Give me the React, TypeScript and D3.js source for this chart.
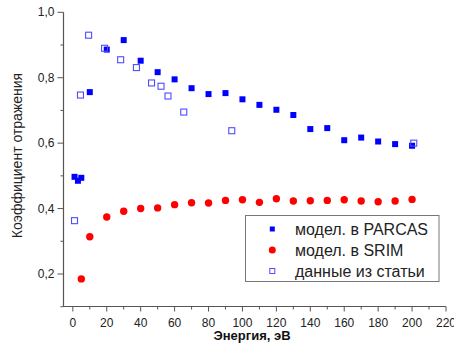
import React, { useRef, useEffect } from "react";
import * as d3 from "d3";

// energies (eV) and reflection coefficients
const parcasE = [1, 3, 5, 10, 20, 30, 40, 50, 60, 70, 80, 90, 100, 110, 120, 130, 140, 150, 160, 170, 180, 190, 200];
const parcasR = [0.497, 0.485, 0.494, 0.756, 0.886, 0.915, 0.852, 0.817, 0.795, 0.768, 0.75, 0.753, 0.734, 0.717, 0.702, 0.686, 0.643, 0.646, 0.609, 0.617, 0.605, 0.597, 0.592];

const srimE = [5, 10, 20, 30, 40, 50, 60, 70, 80, 90, 100, 110, 120, 130, 140, 150, 160, 170, 180, 190, 200];
const srimR = [0.185, 0.314, 0.374, 0.392, 0.4, 0.402, 0.412, 0.418, 0.417, 0.425, 0.427, 0.419, 0.43, 0.423, 0.424, 0.425, 0.427, 0.423, 0.421, 0.423, 0.428];

const paperE = [1, 4.5, 9.3, 18.7, 28.2, 37.5, 46.4, 52, 56.1, 65.4, 93.7, 201];
const paperR = [0.363, 0.747, 0.93, 0.89, 0.855, 0.831, 0.784, 0.774, 0.744, 0.695, 0.638, 0.6];

const xMajor = [0, 20, 40, 60, 80, 100, 120, 140, 160, 180, 200, 220];
const xMinor = [10, 30, 50, 70, 90, 110, 130, 150, 170, 190, 210];
const yMajor = [0.2, 0.4, 0.6, 0.8, 1.0];
const yMinor = [0.1, 0.3, 0.5, 0.7, 0.9];

const legendLabels = ["модел. в PARCAS", "модел. в SRIM", "данные из статьи"];

const FONT = "'Liberation Sans', Arial, sans-serif";
const AXIS = "#555";

export default function App() {
  const svgRef = useRef(null);

  useEffect(() => {
    const svg = d3.select(svgRef.current);
    svg.selectAll("*").remove();

    const x = d3.scaleLinear().domain([-5.5, 220]).range([63.5, 446]);
    const y = d3.scaleLinear().domain([0.1, 1.0]).range([306.7, 12.3]);
    const fmt = (v) => d3.format(".1f")(v).replace(".", ",");

    // x axis
    const gx = svg.append("g").attr("transform", "translate(0,306.5)");
    gx.append("line").attr("x1", 63.5).attr("x2", 446).attr("stroke", AXIS).attr("stroke-width", 1.2);
    gx.selectAll(".maj").data(xMajor).join("line")
      .attr("x1", (d) => x(d)).attr("x2", (d) => x(d)).attr("y1", 0).attr("y2", 5)
      .attr("stroke", AXIS);
    gx.selectAll(".min").data(xMinor).join("line")
      .attr("class", "min")
      .attr("x1", (d) => x(d)).attr("x2", (d) => x(d)).attr("y1", 0).attr("y2", 3)
      .attr("stroke", AXIS);
    gx.selectAll("text").data(xMajor).join("text")
      .attr("x", (d) => x(d)).attr("y", 20.5)
      .attr("text-anchor", "middle")
      .attr("font-size", 12).attr("font-family", FONT).attr("fill", "#222")
      .text((d) => d);

    // y axis
    const gy = svg.append("g").attr("transform", "translate(63.5,0)");
    gy.append("line").attr("y1", 12.3).attr("y2", 306.7).attr("stroke", AXIS).attr("stroke-width", 1.2);
    gy.selectAll(".maj").data(yMajor).join("line")
      .attr("y1", (d) => y(d)).attr("y2", (d) => y(d)).attr("x1", 0).attr("x2", -6)
      .attr("stroke", AXIS);
    gy.selectAll(".min").data(yMinor).join("line")
      .attr("class", "min")
      .attr("y1", (d) => y(d)).attr("y2", (d) => y(d)).attr("x1", 0).attr("x2", -3)
      .attr("stroke", AXIS);
    gy.selectAll("text").data(yMajor).join("text")
      .attr("x", -9).attr("y", (d) => y(d) + 4)
      .attr("text-anchor", "end")
      .attr("font-size", 12).attr("font-family", FONT).attr("fill", "#222")
      .text(fmt);

    // axis titles
    svg.append("text")
      .attr("x", 252).attr("y", 339.5)
      .attr("text-anchor", "middle")
      .attr("font-size", 13).attr("font-weight", "bold").attr("font-family", FONT).attr("fill", "#111")
      .text("Энергия, эВ");
    svg.append("text")
      .attr("transform", "translate(22,155.5) rotate(-90)")
      .attr("text-anchor", "middle")
      .attr("font-size", 14).attr("font-family", FONT).attr("fill", "#222")
      .text("Коэффициент отражения");

    // data
    const parcas = parcasE.map((e, i) => ({ e, r: parcasR[i] }));
    const srim = srimE.map((e, i) => ({ e, r: srimR[i] }));
    const paper = paperE.map((e, i) => ({ e, r: paperR[i] }));

    svg.append("g").selectAll("rect").data(parcas).join("rect")
      .attr("x", (d) => x(d.e) - 3).attr("y", (d) => y(d.r) - 3)
      .attr("width", 6).attr("height", 6)
      .attr("fill", "#0000ff");

    svg.append("g").selectAll("circle").data(srim).join("circle")
      .attr("cx", (d) => x(d.e)).attr("cy", (d) => y(d.r)).attr("r", 3.7)
      .attr("fill", "#ff0000");

    svg.append("g").selectAll("rect").data(paper).join("rect")
      .attr("x", (d) => x(d.e) - 3).attr("y", (d) => y(d.r) - 3)
      .attr("width", 6).attr("height", 6)
      .attr("fill", "none").attr("stroke", "#4d4dff").attr("stroke-width", 1.1);

    // legend
    const lg = svg.append("g");
    lg.append("rect")
      .attr("x", 245.5).attr("y", 215.5).attr("width", 193.5).attr("height", 66)
      .attr("fill", "#fff").attr("stroke", "#777");
    const rowY = [229, 250, 271];
    lg.append("rect").attr("x", 269.8).attr("y", rowY[0] - 2.5).attr("width", 5).attr("height", 5).attr("fill", "#0000ff");
    lg.append("circle").attr("cx", 272.3).attr("cy", rowY[1]).attr("r", 3.5).attr("fill", "#ff0000");
    lg.append("rect").attr("x", 269.8).attr("y", rowY[2] - 2.5).attr("width", 5).attr("height", 5)
      .attr("fill", "none").attr("stroke", "#4d4dff");
    lg.selectAll("text").data(legendLabels).join("text")
      .attr("x", 295).attr("y", (d, i) => rowY[i] + 5.5)
      .attr("font-size", 16).attr("font-family", FONT).attr("fill", "#222")
      .text((d) => d);
  }, []);

  return (
    <svg
      ref={svgRef}
      width={454}
      height={344}
      style={{ position: "absolute", left: 0, top: 0, background: "#fff" }}
    />
  );
}
